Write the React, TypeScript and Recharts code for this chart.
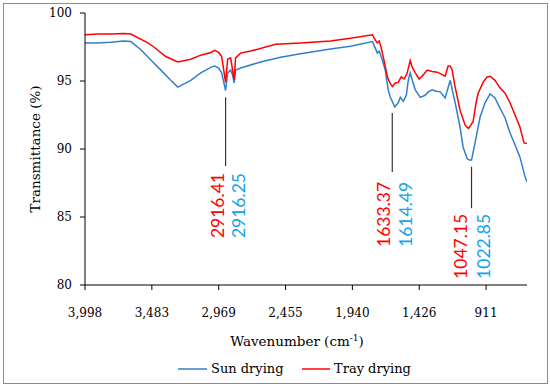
import { LineChart, Line, XAxis, YAxis, ReferenceLine, ReferenceDot } from "recharts";

// FTIR spectra
const sunWavenumbers = [
  3998, 3900, 3800, 3700, 3645, 3568, 3491, 3414, 3338, 3284, 3184, 3107, 3030, 3000, 2969, 2946,
  2916, 2900, 2877, 2862, 2850, 2839, 2800, 2647, 2493, 2339, 2109, 1955, 1786, 1763, 1748, 1733,
  1710, 1687, 1664, 1648, 1614, 1587, 1571, 1548, 1525, 1510, 1495, 1479, 1456, 1418, 1380, 1356,
  1326, 1295, 1264, 1226, 1187, 1149, 1111, 1088, 1057, 1040, 1023, 996, 957, 919, 880, 842, 804,
  765, 727, 688, 650, 611, 596,
];
const sunTransmittance = [
  97.8, 97.8, 97.85, 97.95, 97.9, 97.3, 96.55, 95.8, 95.05, 94.55, 95.05, 95.6, 96.0, 96.1, 95.95, 95.6,
  94.3, 95.6, 95.8, 95.45, 94.85, 95.8, 95.95, 96.4, 96.75, 97.0, 97.35, 97.55, 97.9, 97.4, 97.05, 97.2,
  96.55, 95.8, 94.35, 93.8, 93.1, 93.4, 93.8, 93.5, 93.95, 95.05, 95.6, 95.05, 94.35, 93.8, 93.95, 94.2,
  94.35, 94.25, 94.2, 93.75, 95.05, 93.4, 91.6, 90.15, 89.3, 89.2, 89.2, 90.45, 92.35, 93.4, 94.05, 93.75, 93.0,
  92.3, 91.2, 90.3, 89.4, 87.95, 87.6,
];

const trayWavenumbers = [
  3998, 3900, 3800, 3700, 3645, 3514, 3468, 3376, 3284, 3184, 3107, 3030, 3000, 2969, 2946, 2916,
  2900, 2877, 2862, 2850, 2839, 2800, 2723, 2531, 2339, 2109, 1955, 1786, 1763, 1748, 1733, 1717,
  1694, 1671, 1648, 1633, 1610, 1587, 1564, 1541, 1518, 1495, 1479, 1456, 1426, 1395, 1364, 1326,
  1287, 1256, 1226, 1203, 1187, 1172, 1149, 1111, 1072, 1047, 1011, 988, 972, 934, 903, 880, 842,
  804, 765, 727, 688, 650, 619, 596,
];
const trayTransmittance = [
  98.4, 98.45, 98.45, 98.5, 98.45, 97.8, 97.5, 96.8, 96.4, 96.6, 96.9, 97.1, 97.25, 97.1, 96.8, 94.9,
  96.6, 96.7, 95.8, 95.1, 96.7, 97.05, 97.2, 97.7, 97.8, 97.95, 98.15, 98.4, 98.0, 97.8, 97.95, 97.4,
  96.4, 95.3, 94.8, 94.6, 94.85, 94.9, 95.3, 95.15, 95.6, 96.5, 96.0, 95.6, 95.15, 95.45, 95.8, 95.7,
  95.65, 95.5, 95.35, 96.1, 96.1, 95.8, 94.55, 92.85, 91.75, 91.5, 92.0, 93.4, 94.1, 94.9, 95.3, 95.35, 95.05,
  94.5, 94.1, 93.4, 92.5, 91.6, 90.45, 90.4,
];

const xTicks = [3998, 3483.5, 2969, 2454.5, 1940, 1425.5, 911];
const xTickLabels = ["3,998", "3,483", "2,969", "2,455", "1,940", "1,426", "911"];
const yTicks = [80, 85, 90, 95, 100];

// peak markers: line position (wavenumber, top/bottom %) and the two labels
const peaks = [
  { wn: 2916, top: 93.8, bottom: 88.75, tray: "2916.41", sun: "2916.25", trayX: 2977, sunX: 2815, labelY: 83.45 },
  { wn: 1633, top: 92.65, bottom: 88.3, tray: "1633.37", sun: "1614.49", trayX: 1702, sunX: 1533, labelY: 82.8 },
  { wn: 1023, top: 88.7, bottom: 85.65, tray: "1047.15", sun: "1022.85", trayX: 1111, sunX: 934, labelY: 80.45 },
];

const SUN = "#2f80cc";
const TRAY = "#ff0000";
const SUN_LABEL = "#15a3e8";
const SERIF = '"DejaVu Serif"';

const sunData = sunWavenumbers.map((wn, i) => ({ wn, t: sunTransmittance[i] }));
const trayData = trayWavenumbers.map((wn, i) => ({ wn, t: trayTransmittance[i] }));

const vLabel = (text: string, color: string) => (p: any) => (
  <text
    x={p.cx}
    y={p.cy}
    transform={`rotate(-90 ${p.cx} ${p.cy})`}
    textAnchor="start"
    dominantBaseline="central"
    fill={color}
    style={{ fontFamily: "Lato", fontSize: 17.5 }}
  >
    {text}
  </text>
);

export default function App() {
  return (
    <div style={{ position: "absolute", left: 0, top: 0, width: 550, height: 389, background: "#fff" }}>
      <div
        style={{
          position: "absolute",
          left: 3,
          top: 3,
          width: 543,
          height: 379,
          border: "1px solid #8c8c8c",
        }}
      />
      <LineChart
        width={550}
        height={389}
        margin={{ top: 13, right: 23, bottom: 74, left: 0 }}
        style={{ position: "absolute", left: 0, top: 0 }}
      >
        <XAxis
          dataKey="wn"
          type="number"
          domain={[596, 3998]}
          reversed
          allowDataOverflow
          ticks={xTicks}
          interval={0}
          tickFormatter={(_v: number, i: number) => xTickLabels[i]}
          height={30}
          tickSize={5}
          tickMargin={18}
          axisLine={{ stroke: "#000" }}
          tickLine={{ stroke: "#000" }}
          tick={{ fill: "#000", fontSize: 12, style: { fontFamily: SERIF } }}
        />
        <YAxis
          type="number"
          domain={[80, 100]}
          ticks={yTicks}
          interval={0}
          width={85}
          tickSize={5}
          tickMargin={8}
          axisLine={{ stroke: "#000" }}
          tickLine={{ stroke: "#000" }}
          tick={{ fill: "#000", fontSize: 12, style: { fontFamily: SERIF } }}
        />
        <Line
          data={sunData}
          dataKey="t"
          name="Sun drying"
          type="linear"
          stroke={SUN}
          strokeWidth={1.5}
          dot={false}
          isAnimationActive={false}
        />
        <Line
          data={trayData}
          dataKey="t"
          name="Tray drying"
          type="linear"
          stroke={TRAY}
          strokeWidth={1.5}
          dot={false}
          isAnimationActive={false}
        />
        {peaks.map((p) => (
          <ReferenceLine
            key={`l-${p.wn}`}
            segment={[
              { x: p.wn, y: p.top },
              { x: p.wn, y: p.bottom },
            ]}
            stroke="#333"
            strokeWidth={1.2}
          />
        ))}
        {peaks.map((p) => (
          <ReferenceDot key={`r-${p.wn}`} x={p.trayX} y={p.labelY} r={0} shape={vLabel(p.tray, TRAY)} />
        ))}
        {peaks.map((p) => (
          <ReferenceDot key={`s-${p.wn}`} x={p.sunX} y={p.labelY} r={0} shape={vLabel(p.sun, SUN_LABEL)} />
        ))}
      </LineChart>
      <svg width={550} height={389} style={{ position: "absolute", left: 0, top: 0, pointerEvents: "none" }}>
        <text
          x={40}
          y={149}
          transform="rotate(-90 40 149)"
          textAnchor="middle"
          style={{ fontFamily: SERIF, fontSize: 13.5 }}
        >
          Transmittance (%)
        </text>
        <text x={297} y={346} textAnchor="middle" style={{ fontFamily: SERIF, fontSize: 13.5 }}>
          Wavenumber (cm
          <tspan dy={-5} fontSize={9}>
            -1
          </tspan>
          <tspan dy={5}>)</tspan>
        </text>
        <line x1={178} x2={207} y1={369} y2={369} stroke={SUN} strokeWidth={1.5} />
        <text x={211} y={373} style={{ fontFamily: SERIF, fontSize: 13 }}>
          Sun drying
        </text>
        <line x1={302} x2={330} y1={369} y2={369} stroke={TRAY} strokeWidth={1.5} />
        <text x={334} y={373} style={{ fontFamily: SERIF, fontSize: 13 }}>
          Tray drying
        </text>
      </svg>
    </div>
  );
}
